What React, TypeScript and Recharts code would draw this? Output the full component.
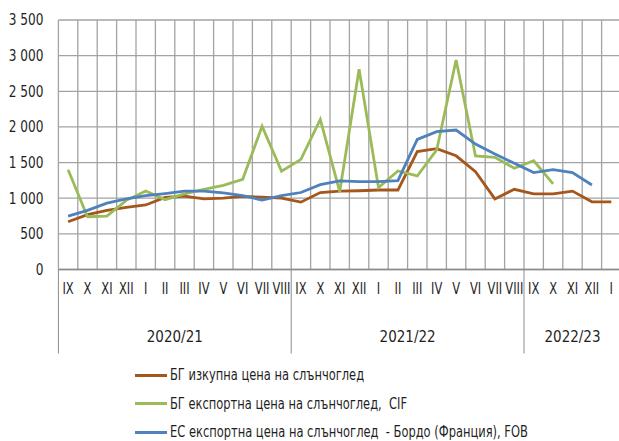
import React from "react";
import { LineChart, Line, XAxis, YAxis, CartesianGrid, Legend } from "recharts";

const months = [
  "IX", "X", "XI", "XII", "I", "II", "III", "IV", "V", "VI", "VII", "VIII",
  "IX", "X", "XI", "XII", "I", "II", "III", "IV", "V", "VI", "VII", "VIII",
  "IX", "X", "XI", "XII", "I",
];
const seasons = ["2020/21", "2021/22", "2022/23"];
const seasonLengths = [12, 12, 5];

const bgPurchase = [
  670, 770, 830, 870, 905, 1010, 1030, 990, 1000, 1025, 1015, 1000,
  945, 1080, 1100, 1105, 1115, 1115, 1655, 1695, 1595, 1372, 990, 1125,
  1060, 1060, 1100, 950, 950,
];
const bgExport = [
  1400, 740, 750, 970, 1100, 980, 1060, 1125, 1180, 1265, 2010, 1380,
  1545, 2105, 1092, 2808, 1148, 1382, 1312, 1677, 2939, 1592, 1574, 1420,
  1525, 1200, null, null, null,
];
const euExport = [
  750, 830, 930, 990, 1035, 1065, 1100, 1100, 1075, 1035, 975, 1035,
  1080, 1190, 1242, 1232, 1232, 1246, 1826, 1934, 1957, 1760, 1620, 1490,
  1360, 1400, 1360, 1185, null,
];
const yTicks = [0, 500, 1000, 1500, 2000, 2500, 3000, 3500];

const seriesKeys = ["purchase", "bgExport", "euExport"];
const seriesNames = [
  "БГ изкупна цена на слънчоглед",
  "БГ експортна цена на слънчоглед,  CIF",
  "ЕС експортна цена на слънчоглед  - Бордо (Франция), FOB",
];
const colors = ["#A5561B", "#9BBB59", "#4F81BD"];

const data = months.map((m, i) => ({
  pos: i + 0.5,
  month: m,
  purchase: bgPurchase[i],
  bgExport: bgExport[i],
  euExport: euExport[i],
}));

const total = months.length;
const boundaries = Array.from({ length: total + 1 }, (_, i) => i);
const monthTicks = data.map((d) => d.pos);
const seasonStarts: number[] = [];
const seasonCenters: number[] = [];
{
  let acc = 0;
  seasonLengths.forEach((n) => {
    seasonStarts.push(acc);
    seasonCenters.push(acc + n / 2);
    acc += n;
  });
}
const yearTicks = [...seasonStarts, ...seasonCenters];

const FONT = "'DejaVu Sans Condensed', 'Liberation Sans Narrow', sans-serif";
const TEXT = "#1f1f1f";
const MONTH_AXIS_H = 50;
const YEAR_MARGIN = 11.5;

const fmt = (v: number) => {
  const s = String(v);
  return s.length > 3 ? s.slice(0, s.length - 3) + " " + s.slice(-3) : s;
};

const MonthTick = (props: any) => {
  const { x, y, payload } = props;
  return (
    <g transform={`translate(${x},${y}) scale(0.85,1)`}>
      <text x={0} y={0} dy="0.71em" textAnchor="middle" fontFamily={FONT} fontSize={15} fill={TEXT}>
        {months[Math.floor(payload.value)]}
      </text>
    </g>
  );
};

const YTick = (props: any) => {
  const { x, y, payload } = props;
  return (
    <g transform={`translate(${x},${y}) scale(0.9,1)`}>
      <text x={0} y={0} dy="0.355em" textAnchor="end" fontFamily={FONT} fontSize={15} fill={TEXT}>
        {fmt(payload.value)}
      </text>
    </g>
  );
};

const YearTick = (props: any) => {
  const { x, y, payload } = props;
  const v = payload.value;
  const si = seasonStarts.indexOf(v);
  if (si >= 0) {
    const axisY = y - YEAR_MARGIN;
    const top = axisY - MONTH_AXIS_H;
    return <line x1={x} x2={x} y1={top} y2={top + 84} stroke="#8c8c8c" strokeWidth={1} />;
  }
  const ci = seasonCenters.indexOf(v);
  return (
    <text x={x} y={y} dy="0.71em" textAnchor="middle" fontFamily={FONT} fontSize={15} fill={TEXT}>
      {seasons[ci]}
    </text>
  );
};

const LegendContent = (props: any) => {
  const payload = [...(props.payload || [])].sort(
    (a: any, b: any) => seriesKeys.indexOf(a.dataKey) - seriesKeys.indexOf(b.dataKey)
  );
  return (
    <div style={{ fontFamily: FONT, fontSize: 15, color: TEXT }}>
      {payload.map((p: any, i: number) => (
        <div key={i} style={{ display: "flex", alignItems: "center", height: 28.5 }}>
          <div style={{ width: 32, height: 3, background: p.color, marginRight: 2.5, flex: "none" }} />
          <span
            style={{
              whiteSpace: "pre",
              display: "inline-block",
              transform: "scaleX(0.85)",
              transformOrigin: "left center",
            }}
          >
            {p.value}
          </span>
        </div>
      ))}
    </div>
  );
};

export default function App() {
  return (
    <div
      style={{
        position: "fixed",
        left: 0,
        top: 0,
        width: 619,
        height: 441,
        overflow: "hidden",
        background: "#fff",
      }}
    >
      <LineChart
        width={630}
        height={441}
        data={data}
        margin={{ top: 20, right: 9, bottom: 81.5, left: 0 }}
      >
        <CartesianGrid
          xAxisId="m"
          stroke="#a3a3a3"
          strokeWidth={1.3}
          verticalValues={boundaries}
          horizontalValues={yTicks}
        />
        <XAxis
          xAxisId="m"
          type="number"
          dataKey="pos"
          domain={[0, total]}
          ticks={monthTicks}
          interval={0}
          height={MONTH_AXIS_H}
          axisLine={{ stroke: "#8c8c8c", strokeWidth: 1.3 }}
          tickLine={false}
          tickSize={0}
          tickMargin={14}
          tick={<MonthTick />}
        />
        <XAxis
          xAxisId="y"
          type="number"
          dataKey="pos"
          domain={[0, total]}
          ticks={yearTicks}
          interval={0}
          height={40}
          axisLine={false}
          tickLine={false}
          tickSize={0}
          tickMargin={YEAR_MARGIN}
          tick={<YearTick />}
        />
        <YAxis
          width={58.4}
          domain={[0, 3500]}
          ticks={yTicks}
          interval={0}
          axisLine={false}
          tickLine={false}
          tickSize={0}
          tickMargin={15}
          tick={<YTick />}
        />
        <Legend
          layout="vertical"
          align="center"
          verticalAlign="middle"
          wrapperStyle={{ position: "absolute", left: 135, top: 360.75, width: 480 }}
          content={<LegendContent />}
        />
        <Line
          xAxisId="m"
          dataKey="purchase"
          name={seriesNames[0]}
          stroke={colors[0]}
          strokeWidth={2.8}
          dot={false}
          isAnimationActive={false}
        />
        <Line
          xAxisId="m"
          dataKey="bgExport"
          name={seriesNames[1]}
          stroke={colors[1]}
          strokeWidth={2.8}
          dot={false}
          isAnimationActive={false}
        />
        <Line
          xAxisId="m"
          dataKey="euExport"
          name={seriesNames[2]}
          stroke={colors[2]}
          strokeWidth={2.8}
          dot={false}
          isAnimationActive={false}
        />
      </LineChart>
    </div>
  );
}
